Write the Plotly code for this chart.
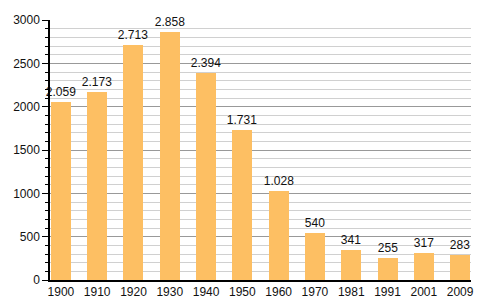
import plotly.graph_objects as go

years = ["1900", "1910", "1920", "1930", "1940", "1950", "1960", "1970", "1981", "1991", "2001", "2009"]
population = [2059, 2173, 2713, 2858, 2394, 1731, 1028, 540, 341, 255, 317, 283]

fig = go.Figure(
    go.Bar(
        x=years,
        y=population,
        marker=dict(color="#FDBF63", line=dict(width=0)),
        width=0.55,
        texttemplate="%{y:,}",
        textposition="outside",
        constraintext="none",
        textfont=dict(family="Liberation Sans, Arial", size=12, color="#111"),
        cliponaxis=False,
    )
)

fig.update_layout(
    width=500,
    height=300,
    margin=dict(l=50, r=29, t=20, b=20, autoexpand=False),
    paper_bgcolor="white",
    plot_bgcolor="white",
    separators=",.",
    showlegend=False,
    bargap=0,
    font=dict(family="Liberation Sans, Arial", size=12, color="#111"),
    xaxis=dict(
        type="category",
        range=[-0.3, 11.3],
        automargin=False,
        showline=True,
        linecolor="black",
        linewidth=1.5,
        ticks="",
        showgrid=False,
        tickfont=dict(size=12),
    ),
    yaxis=dict(
        range=[0, 3000],
        automargin=False,
        dtick=500,
        tickformat="d",
        showline=True,
        linecolor="black",
        linewidth=1.5,
        ticks="outside",
        ticklen=6,
        tickcolor="black",
        gridcolor="#999999",
        gridwidth=1,
        zeroline=False,
        tickfont=dict(size=12),
        minor=dict(dtick=100, ticks="outside", ticklen=3, tickcolor="black",
                   showgrid=True, gridcolor="#d0d0d0", gridwidth=1),
    ),
)

fig.write_html("out.html")
